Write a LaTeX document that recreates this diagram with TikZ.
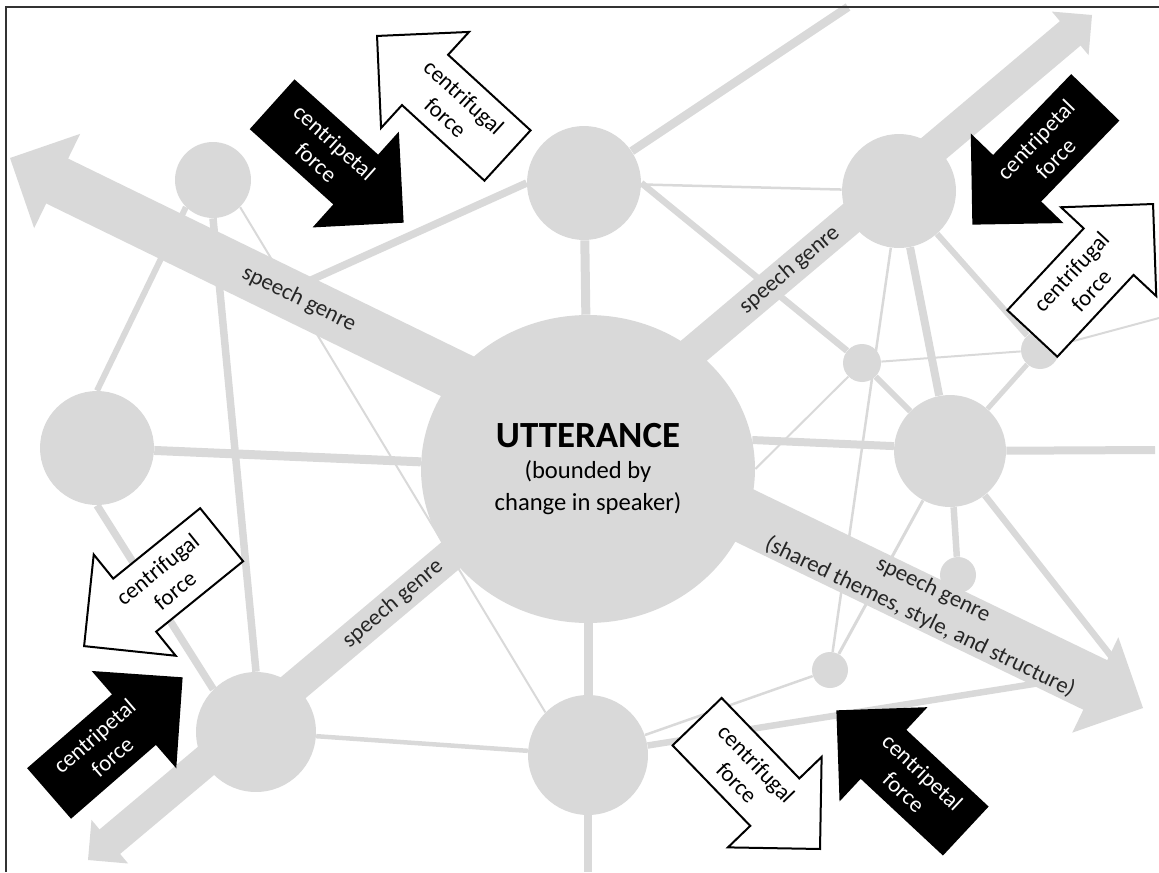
\documentclass[tikz,border=0pt]{standalone}
\usepackage{fontspec}
\setmainfont{Carlito}
\usetikzlibrary{calc}
\usetikzlibrary{shapes.geometric}
\usetikzlibrary{shapes.arrows}
\definecolor{netgray}{RGB}{217,217,217}

\begin{document}
\begin{tikzpicture}[x=0.02cm,y=-0.02cm]
  \tikzset{
    hub/.style={circle,fill=netgray,inner sep=0pt,minimum size=#1},
    link/.style={netgray,line width=#1},
    force/.style={single arrow,single arrow tip angle=90,
      single arrow head extend=0.62cm,minimum height=3.54cm,minimum width=2.56cm,
      inner xsep=0pt,inner ysep=0.23cm,align=center,font=\fontsize{13}{15.5}\selectfont},
    pull/.style={force,fill=black,text=white},
    push/.style={force,draw=black,fill=white,line width=0.04cm},
    genre label/.style={sloped,align=center,text=black!85,font=\fontsize{13}{17.5}\selectfont},
  }
  \useasboundingbox (0,0) rectangle (1159,872);
  %HUB AND TIPS
  \coordinate (hub) at (588,440);
  \coordinate (tipNW) at (10,158);
  \coordinate (tipNE) at (1092,15);
  \coordinate (tipSW) at (88,860);
  \coordinate (tipSE) at (1143,708);
  %FREE ENDS
  \coordinate (gapW) at (300,285);
  \coordinate (edgeN) at (848,7);
  \coordinate (edgeE) at (1155,450);
  \coordinate (edgeE2) at (1159,318);
  \coordinate (edgeS) at (588,872);
  \coordinate (jointSE) at (1090,675);
  \coordinate (jointSE2) at (1118,665);

  %SPEECH GENRE ARROWS
  \foreach \tip/\shaftw/\headhalf in {tipNW/1cm/1.05cm,tipNE/0.64cm/0.57cm,tipSW/0.64cm/0.57cm,tipSE/1.1cm/1.06cm}{
    \coordinate (neck) at ($(\tip)!\headhalf!(hub)$);
    \draw[link=\shaftw] (hub) -- ($(neck)!-1pt!(hub)$);
    \fill[netgray] (\tip) -- ($(neck)!\headhalf!90:(\tip)$) -- ($(neck)!\headhalf!-90:(\tip)$) -- cycle;
  }

  %UTTERANCE
  \node[hub=1cm,ellipse,minimum width=6.68cm,minimum height=6.16cm,align=center,
    font=\fontsize{14}{18}\selectfont] (utt) at (588,469)
    {{\fontsize{21}{25}\selectfont\bfseries UTTERANCE}\\(bounded by\\change in speaker)};
  %OTHER UTTERANCES
  \node[hub=2.28cm] (top) at (584,183) {};
  \node[hub=1.52cm] (tl) at (213,180) {};
  \node[hub=2.28cm] (left) at (97,448) {};
  \node[hub=2.4cm] (bl) at (256,732) {};
  \node[hub=2.4cm] (bc) at (588,755) {};
  \node[hub=2.28cm] (tr) at (899,191) {};
  \node[hub=2.24cm] (right) at (950,451) {};
  \node[hub=0.76cm] (dotA) at (862,363) {};
  \node[hub=0.76cm] (dotB) at (1040,350) {};
  \node[hub=0.72cm] (dotC) at (958,575) {};
  \node[hub=0.72cm] (dotD) at (830,670) {};

  %THICK LINKS
  \draw[link=0.18cm] (top) -- (utt);
  \draw[link=0.18cm] (utt) -- (bc);
  \draw[link=0.16cm] (bc) -- (edgeS);
  \draw[link=0.18cm] (left) -- (utt);
  \draw[link=0.16cm] (utt.10) -- (right.175);
  \draw[link=0.16cm] (right) -- (edgeE);
  \draw[link=0.16cm] (tr) -- (right);
  %MEDIUM LINKS
  \draw[link=0.15cm] (top.west) -- (gapW);
  \draw[link=0.17cm] (top) -- (edgeN);
  \draw[link=0.13cm] (top.east) -- (dotA);
  \draw[link=0.12cm] (left.north) -- (tl.south west);
  \draw[link=0.15cm] (tl.south) -- (bl.north);
  \draw[link=0.15cm] (left.south) -- (bl.north west);
  \draw[link=0.13cm] (bc) -- (jointSE);
  \draw[link=0.12cm] (dotA) -- (right);
  \draw[link=0.12cm] (tr) -- (dotB);
  \draw[link=0.1cm] (right) -- (dotB);
  \draw[link=0.13cm] (right) -- (dotC);
  \draw[link=0.13cm] (right) -- (jointSE2);
  \draw[link=0.09cm] (bl) -- (bc);
  %THIN LINKS
  \draw[link=0.05cm] (top) -- (tr);
  \draw[link=0.04cm] (tl.south east) -- (bc.north west);
  \draw[link=0.05cm] (bc) -- (dotD);
  \draw[link=0.06cm] (dotD) -- (right);
  \draw[link=0.05cm] (tr) -- (dotD);
  \draw[link=0.04cm] (dotA) -- (utt.east);
  \draw[link=0.04cm] (dotA) -- (dotB);
  \draw[link=0.04cm] (dotB) -- (edgeE2);

  %LABELS SPEECH GENRE
  \path (hub) -- (tipNW) node[genre label,pos=0.5] (sgNW) {speech genre};
  \path (hub) -- (tipNE) node[genre label,pos=0.4] (sgNE) {speech genre};
  \path (hub) -- (tipSW) node[genre label,pos=0.39] (sgSW) {speech genre};
  \path (hub) -- (tipSE) node[genre label,pos=0.61] (sgSE) {speech genre\\(shared themes, style, and structure)};

  %FORCES
  \node[pull,rotate=-42,anchor=tip] (pullN) at (404,223) {centripetal\\force};
  \node[push,rotate=-42.5,shape border rotate=180,anchor=tip] (pushN) at (376,35) {centrifugal\\force};
  \node[pull,rotate=46,shape border rotate=180,anchor=tip] (pullNE) at (972,225) {centripetal\\force};
  \node[push,rotate=47,anchor=tip] (pushE) at (1154,203) {centrifugal\\force};
  \node[push,rotate=39,shape border rotate=180,anchor=tip] (pushSW) at (83,647) {centrifugal\\force};
  \node[pull,rotate=41,anchor=tip] (pullSW) at (183,677) {centripetal\\force};
  \node[push,rotate=-46,anchor=tip] (pushS) at (821,850) {centrifugal\\force};
  \node[pull,rotate=-43,shape border rotate=180,anchor=tip] (pullSE) at (836,710) {centripetal\\force};

  %FRAME
  \draw[black!80,line width=0.04cm] (6,872) -- (6,7) -- (1159,7);
\end{tikzpicture}
\end{document}
